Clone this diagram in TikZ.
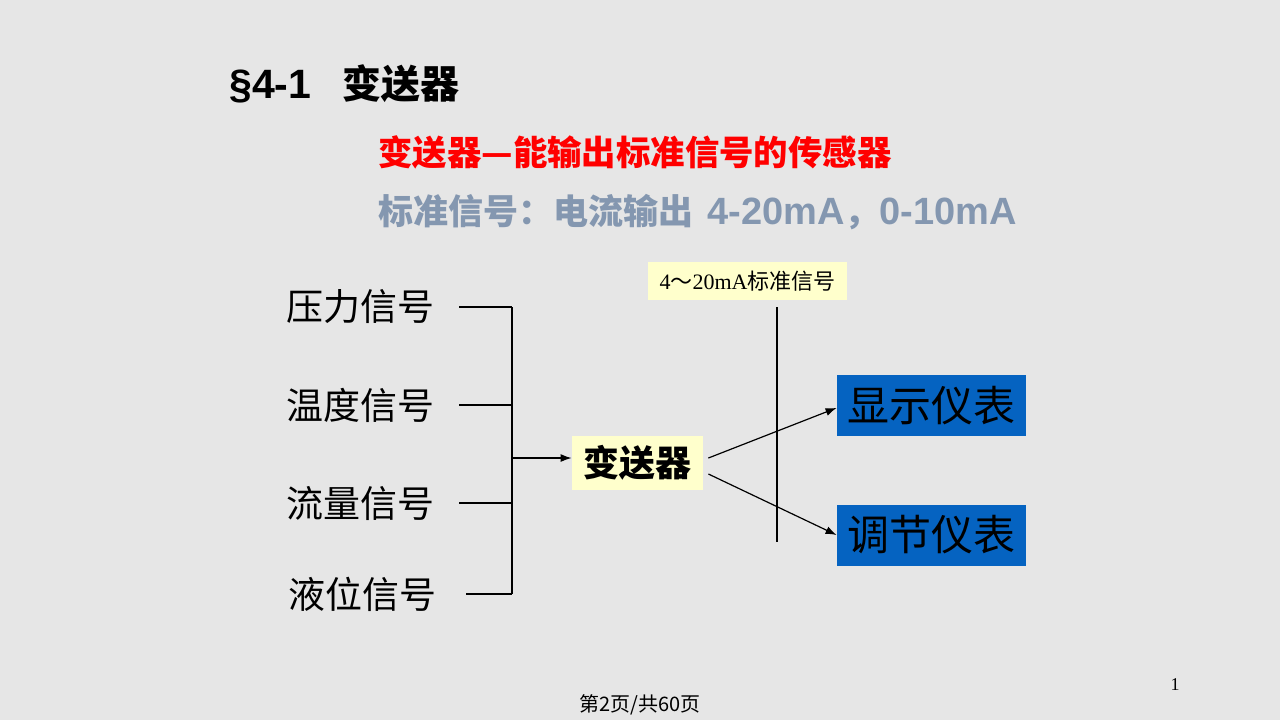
\documentclass[tikz,border=0pt]{standalone}
\usepackage{fontspec}
\setmainfont{Noto Sans CJK SC}
\newfontfamily\latinserif{Liberation Serif}
\newfontfamily\latinsans{Liberation Sans}
\usetikzlibrary{arrows.meta}

\definecolor{slidebg}{RGB}{230,230,230}
\definecolor{boxyellow}{RGB}{255,255,204}
\definecolor{meterblue}{RGB}{5,99,193}
\definecolor{notegray}{RGB}{132,151,176}

\tikzset{
	signal/.style={anchor=east, inner xsep=12pt, font=\fontsize{18.5}{22}\selectfont},
	meter/.style={fill=meterblue, minimum width=94.5pt, minimum height=30.5pt, inner sep=0pt, font=\fontsize{21}{24}\selectfont},
	wire/.style={line width=0.6pt},
	arr/.style={wire, -{Latex[length=5.5pt,width=4pt]}}
}

\begin{document}
\begin{tikzpicture}[x=0.5pt, y=-0.5pt]
	\useasboundingbox (0,0) rectangle (1280,720);
	\fill[slidebg] (0,0) rectangle (1280,720);

	% headings
	\node[anchor=west, inner sep=0pt, font=\fontsize{19.5}{22}\selectfont\bfseries] (title) at (229,84) {{\latinsans\fontsize{20.5}{22}\selectfont §4-1}\hspace{0.8em}变送器};
	\node[anchor=west, inner sep=0pt, text=red, font=\fontsize{17.2}{20}\selectfont\bfseries] (defn) at (378,152) {变送器—能输出标准信号的传感器};
	\node[anchor=west, inner sep=0pt, text=notegray, font=\fontsize{17.5}{20}\selectfont\bfseries] (stdsig) at (378,212) {标准信号：电流输出\hspace{0.4em}{\latinsans\fontsize{19}{20}\selectfont 4-20mA}，{\latinsans\fontsize{19}{20}\selectfont 0-10mA}};

	% input signals
	\node[signal] (pressure) at (459,307) {压力信号};
	\node[signal] (temp) at (459,405) {温度信号};
	\node[signal] (flow) at (459,503) {流量信号};
	\node[signal, inner xsep=14.5pt] (level) at (466,594) {液位信号};

	\coordinate (bustop) at (512,307);
	\coordinate (busbot) at (512,594);
	\coordinate (join) at (512,458);
	\draw[wire] (bustop) -- (busbot);
	\foreach \s in {pressure,temp,flow,level}
		\draw[wire] (\s.east) -- (\s.east -| bustop);

	% transmitter
	\node[fill=boxyellow, minimum width=65.5pt, minimum height=27pt, inner sep=0pt, font=\fontsize{18}{20}\selectfont\bfseries] (xmit) at (637.5,463) {变送器};
	\draw[arr] (join) -- (join -| xmit.west);

	% standard signal label
	\node[fill=boxyellow, minimum width=99.5pt, minimum height=19pt, inner sep=0pt, font=\fontsize{11}{12}\selectfont] (siglabel) at (747.5,281) {{\latinserif 4}～{\latinserif 20mA}标准信号};
	\coordinate (cuttop) at (777,307);
	\coordinate (cutbot) at (777,542);
	\draw[wire] (cuttop) -- (cutbot);

	% meters
	\node[meter] (display) at (931.5,405.5) {显示仪表};
	\node[meter] (control) at (931.5,535) {调节仪表};
	\draw[arr] ([xshift=2.5pt, yshift=2.5pt]xmit.east) -- ([yshift=-1.2pt]display.west);
	\draw[arr] ([xshift=2.5pt, yshift=-5.5pt]xmit.east) -- (control.west);

	% footer
	\node[font=\fontsize{10}{12}\selectfont] (pageinfo) at (640,705) {第2页/共60页};
	\node[font=\latinserif\fontsize{9}{10}\selectfont] (pagenum) at (1175,685) {1};
\end{tikzpicture}
\end{document}
